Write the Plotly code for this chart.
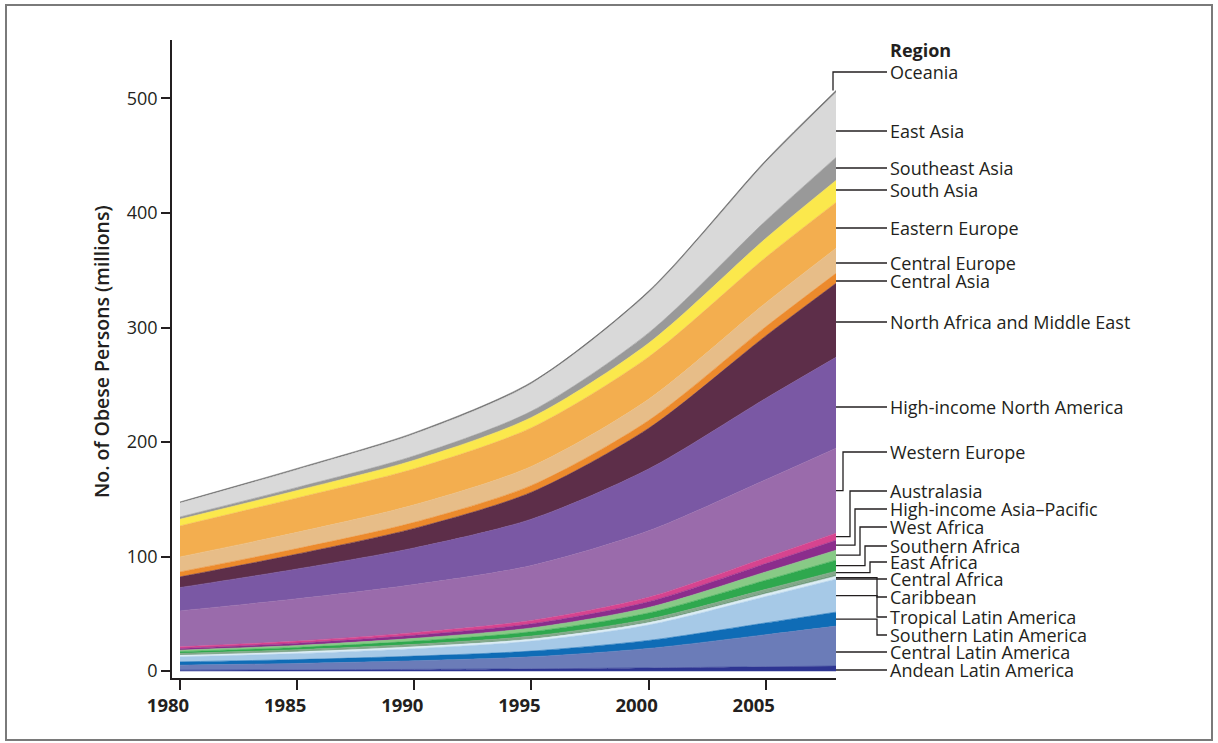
import plotly.graph_objects as go

years = [1980, 1985, 1990, 1995, 2000, 2005, 2008]

# stacking order: bottom -> top (values in millions)
andean_latin_america   = [0.8, 1.1, 1.5, 2.0, 2.8, 3.8, 4.4]
central_latin_america  = [4.4, 5.6, 7.5, 10.5, 17.0, 28.0, 34.9]
southern_latin_america = [2.9, 3.4, 4.1, 5.0, 7.0, 10.3, 12.2]
tropical_latin_america = [4.3, 5.2, 6.5, 8.7, 13.5, 23.0, 28.8]
caribbean              = [1.6, 1.7, 1.8, 1.9, 2.1, 2.4, 2.6]
central_africa         = [0.5, 0.6, 0.7, 0.9, 1.1, 1.5, 1.7]
east_africa            = [1.0, 1.1, 1.3, 1.6, 1.9, 2.4, 2.7]
southern_africa        = [1.5, 2.0, 2.8, 3.8, 5.4, 8.0, 9.6]
west_africa            = [1.3, 1.7, 2.4, 3.3, 4.8, 7.2, 8.7]
hi_asia_pacific        = [1.5, 2.0, 2.7, 3.6, 5.0, 7.3, 8.7]
australasia            = [1.4, 1.8, 2.3, 2.9, 3.9, 5.2, 6.1]
western_europe         = [31.4, 37.0, 42.0, 48.0, 58.0, 68.0, 74.2]
hi_north_america       = [20.4, 26.0, 32.0, 40.5, 54.0, 71.0, 79.4]
n_africa_middle_east   = [9.3, 13.0, 17.0, 23.5, 35.5, 54.5, 64.6]
central_asia           = [4.3, 4.8, 5.3, 5.9, 6.8, 8.0, 8.7]
central_europe         = [13.1, 14.2, 15.3, 16.6, 18.5, 20.8, 21.8]
eastern_europe         = [27.1, 30.0, 31.5, 33.8, 37.0, 39.8, 40.1]
south_asia             = [5.8, 6.5, 7.5, 9.0, 12.0, 16.5, 19.2]
southeast_asia         = [2.0, 2.7, 3.8, 5.5, 9.0, 15.5, 20.1]
east_asia              = [12.1, 15.5, 19.0, 24.0, 35.0, 51.0, 56.7]
oceania                = [1.0, 1.1, 1.2, 1.3, 1.5, 1.7, 1.8]

region_names = [
    "Andean Latin America", "Central Latin America", "Southern Latin America",
    "Tropical Latin America", "Caribbean", "Central Africa", "East Africa",
    "Southern Africa", "West Africa", "High-income Asia\u2013Pacific", "Australasia",
    "Western Europe", "High-income North America", "North Africa and Middle East",
    "Central Asia", "Central Europe", "Eastern Europe", "South Asia",
    "Southeast Asia", "East Asia", "Oceania",
]
region_values = [
    andean_latin_america, central_latin_america, southern_latin_america,
    tropical_latin_america, caribbean, central_africa, east_africa,
    southern_africa, west_africa, hi_asia_pacific, australasia,
    western_europe, hi_north_america, n_africa_middle_east,
    central_asia, central_europe, eastern_europe, south_asia,
    southeast_asia, east_asia, oceania,
]
region_colors = [
    "#2e3592", "#6b7cb8", "#0f6cb6", "#a6c9e7", "#dcedf5", "#6f9a7a", "#84a88a",
    "#2fa84e", "#88ca86", "#8b2d8c", "#d6448f",
    "#9a6bab", "#7a58a4", "#5d2e49",
    "#ec8a2c", "#e7bd88", "#f3ae4f", "#fbe84c",
    "#999999", "#d9d9d9", "#707070",
]

# label layout: label pixel y, elbow pixel x (None = straight connector)
label_py = [670, 652, 635, 617, 597, 579, 562, 546, 527, 509, 491,
            452, 407, 322, 281, 263, 228, 190, 168, 131, 72]
label_elbow_px = [None, None, 877, 877, 877, None, 870, 865, 860, 855, 850,
                  843, None, None, None, None, None, None, None, None, 833]

FONT = "Open Sans"
INK = "#231f20"
fig = go.Figure()
for name, vals, col in zip(region_names, region_values, region_colors):
    fig.add_trace(go.Scatter(
        x=years, y=vals, name=name, mode="lines", stackgroup="one",
        line=dict(width=0.6, color=col, shape="spline", smoothing=0.8),
        fillcolor=col, hoverinfo="name+y",
    ))

# plot geometry (pixels)
W, H = 1218, 743
L, R, T, B = 172, 382, 40, 65
PW, PH = W - L - R, H - T - B
YR = [-6, 551]


def py_to_y(py):
    return YR[0] + (H - B - py) * (YR[1] - YR[0]) / PH


def px_to_paper(px):
    return (px - L) / PW


cum = []
running = 0
for vals in region_values:
    cum.append((running, running + vals[-1]))
    running += vals[-1]

shapes = []
annotations = []
x_band = 1.0
x_text_line = px_to_paper(887)
x_text = px_to_paper(888)
for i, name in enumerate(region_names):
    lo, hi = cum[i]
    elbow = label_elbow_px[i]
    ly = py_to_y(label_py[i])
    if name == "Oceania":
        ex = px_to_paper(elbow)
        path = f"M {ex},{hi} L {ex},{ly} L {x_text_line},{ly}"
    elif elbow is None:
        path = f"M {x_band},{ly} L {x_text_line},{ly}"
    else:
        ay = (lo + hi) / 2
        ex = px_to_paper(elbow)
        path = f"M {x_band},{ay} L {ex},{ay} L {ex},{ly} L {x_text_line},{ly}"
    shapes.append(dict(type="path", path=path, xref="paper", yref="y",
                       line=dict(color=INK, width=1.3)))
    annotations.append(dict(x=x_text, y=ly, xref="paper", yref="y", text=name,
                            showarrow=False, xanchor="left", yanchor="middle",
                            font=dict(family=FONT, size=18, color=INK)))

annotations.append(dict(x=x_text, y=py_to_y(50), xref="paper", yref="y", text="<b>Region</b>",
                        showarrow=False, xanchor="left", yanchor="middle",
                        font=dict(family=FONT, size=18, color=INK)))
annotations.append(dict(x=px_to_paper(101), y=(H - B - 352) / PH, xref="paper", yref="paper",
                        text="No. of Obese Persons (millions)", textangle=-90,
                        showarrow=False, xanchor="center", yanchor="middle",
                        font=dict(family=FONT, size=19.5, color=INK, weight=600)))

# outer frame
shapes.append(dict(type="rect", xref="paper", yref="paper",
                   x0=px_to_paper(6), x1=px_to_paper(1212),
                   y0=(H - B - 740) / PH, y1=(H - B - 5) / PH,
                   line=dict(color="#7a7a7a", width=2), fillcolor="rgba(0,0,0,0)"))

fig.update_layout(
    width=W, height=H, autosize=False,
    margin=dict(l=L, r=R, t=T, b=B, autoexpand=False),
    paper_bgcolor="white", plot_bgcolor="white",
    showlegend=False, shapes=shapes, annotations=annotations,
    font=dict(family=FONT, color=INK), hovermode=False,
)
fig.update_xaxes(range=[1980 - 8 / 23.43, 2008], tickvals=[1980, 1985, 1990, 1995, 2000, 2005],
                 showline=True, linecolor=INK, linewidth=1.5, ticks="outside",
                 ticklen=10, tickwidth=1.5, tickcolor=INK, showgrid=False, zeroline=False,
                 ticklabelshift=-12,
                 tickfont=dict(family=FONT, size=18.5, weight="bold", color=INK))
fig.update_yaxes(range=YR, tickvals=[0, 100, 200, 300, 400, 500],
                 showline=True, linecolor=INK, linewidth=1.5, ticks="outside",
                 ticklen=9, tickwidth=1.5, tickcolor=INK, showgrid=False, zeroline=False,
                 tickfont=dict(family=FONT, size=18, color=INK))

fig.write_html("out.html", config={"displayModeBar": False},
               post_script="document.body.style.margin='0';document.body.style.overflow='hidden';")
